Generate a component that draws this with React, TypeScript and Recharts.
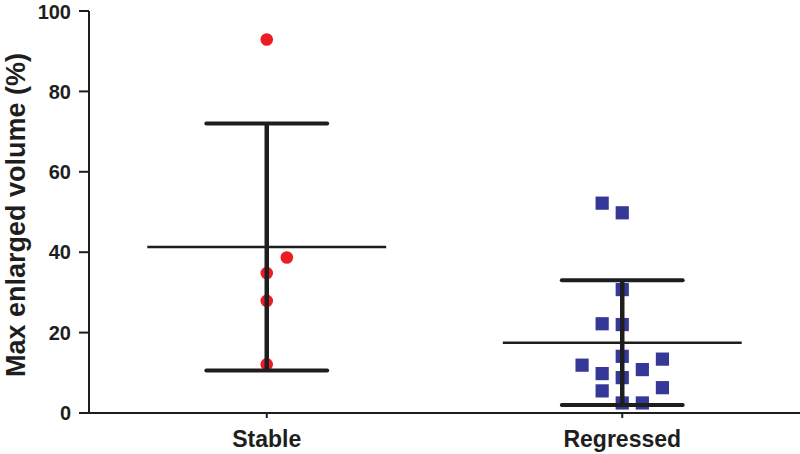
import React from 'react';
import { ComposedChart, XAxis, YAxis, Scatter, ReferenceLine } from 'recharts';

const groups = ['Stable', 'Regressed'];
const groupPositions = [1, 2];

const stableValues = [92.9, 38.7, 34.8, 27.9, 12.1];
const stableSlots = [0, 1, 0, 0, 0];

const regressedValues = [52.2, 49.8, 30.7, 22.2, 22.0, 14.1, 13.4, 11.9, 10.8, 9.8, 8.8, 6.3, 5.5, 2.5, 2.5];
const regressedSlots = [-1, 0, 0, -1, 0, 0, 2, -2, 1, -1, 0, 2, -1, 0, 1];

const means = [41.3, 17.5];
const sds = [30.7, 15.5];

const yTicks = [0, 20, 40, 60, 80, 100];

const JITTER = 0.0565;
const MEAN_HALF = 0.336;
const CAP_HALF = 0.17;
const FONT = '"Liberation Sans", Arial, Helvetica, sans-serif';
const INK = '#1e1e1e';

const stableData = stableValues.map((v, i) => ({ x: groupPositions[0] + stableSlots[i] * JITTER, y: v }));
const regressedData = regressedValues.map((v, i) => ({ x: groupPositions[1] + regressedSlots[i] * JITTER, y: v }));

const RedDot = (props: any) => {
  const { cx, cy } = props;
  return <circle cx={cx} cy={cy} r={6.3} fill="#ec1c24" />;
};

const BlueSquare = (props: any) => {
  const { cx, cy } = props;
  return <rect x={cx - 6.6} y={cy - 6.6} width={13.2} height={13.2} fill="#353896" />;
};

const YLabel = () => (
  <text
    x={25}
    y={215}
    transform="rotate(-90, 25, 215)"
    textAnchor="middle"
    fontFamily={FONT}
    fontWeight="bold"
    fontSize={27}
    fill={INK}
  >
    Max enlarged volume (%)
  </text>
);

export default function App() {
  return (
    <div style={{ position: 'absolute', left: 0, top: 0, width: 800, height: 454, background: '#fff' }}>
      <ComposedChart width={800} height={454} margin={{ top: 11, right: 0, bottom: 0, left: 0 }}>
        <XAxis
          type="number"
          dataKey="x"
          domain={[0.5, 2.5]}
          ticks={groupPositions}
          tickFormatter={(v: number) => groups[groupPositions.indexOf(v)] ?? ''}
          height={41}
          tickSize={5}
          tickMargin={13}
          axisLine={{ stroke: INK, strokeWidth: 2 }}
          tickLine={{ stroke: INK, strokeWidth: 2 }}
          tick={{ fontFamily: FONT, fontWeight: 'bold', fontSize: 23, fill: INK }}
          allowDataOverflow
        />
        <YAxis
          type="number"
          dataKey="y"
          domain={[0, 100]}
          ticks={yTicks}
          width={89}
          tickSize={10}
          tickMargin={8}
          axisLine={{ stroke: INK, strokeWidth: 2 }}
          tickLine={{ stroke: INK, strokeWidth: 2 }}
          tick={{ fontFamily: FONT, fontWeight: 'bold', fontSize: 20, fill: INK }}
          label={<YLabel />}
        />
        <Scatter data={stableData} dataKey="y" shape={RedDot} isAnimationActive={false} />
        <Scatter data={regressedData} dataKey="y" shape={BlueSquare} isAnimationActive={false} />
        {groupPositions.map((p, i) => (
          <ReferenceLine
            key={`mean-${i}`}
            segment={[{ x: p - MEAN_HALF, y: means[i] }, { x: p + MEAN_HALF, y: means[i] }]}
            stroke={INK}
            strokeWidth={2.5}
            ifOverflow="visible"
            zIndex={700}
          />
        ))}
        {groupPositions.map((p, i) => (
          <ReferenceLine
            key={`vert-${i}`}
            segment={[{ x: p, y: means[i] - sds[i] }, { x: p, y: means[i] + sds[i] }]}
            stroke={INK}
            strokeWidth={4.5}
            ifOverflow="visible"
            zIndex={700}
          />
        ))}
        {groupPositions.map((p, i) => (
          <ReferenceLine
            key={`up-${i}`}
            segment={[{ x: p - CAP_HALF, y: means[i] + sds[i] }, { x: p + CAP_HALF, y: means[i] + sds[i] }]}
            stroke={INK}
            strokeWidth={4}
            strokeLinecap="round"
            ifOverflow="visible"
            zIndex={700}
          />
        ))}
        {groupPositions.map((p, i) => (
          <ReferenceLine
            key={`lo-${i}`}
            segment={[{ x: p - CAP_HALF, y: means[i] - sds[i] }, { x: p + CAP_HALF, y: means[i] - sds[i] }]}
            stroke={INK}
            strokeWidth={4}
            strokeLinecap="round"
            ifOverflow="visible"
            zIndex={700}
          />
        ))}
      </ComposedChart>
    </div>
  );
}
